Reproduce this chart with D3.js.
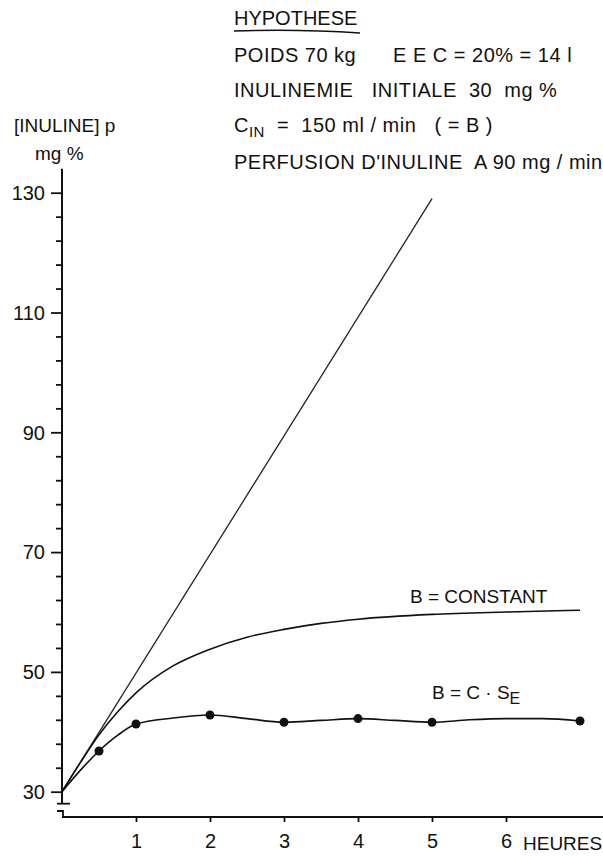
<!DOCTYPE html>
<html>
<head>
<meta charset="utf-8">
<script src="https://cdn.jsdelivr.net/npm/d3@7"></script>
<style>
  body { margin: 0; background: #fff; }
  svg text { font-family: "Liberation Sans", Arial, sans-serif; fill: #111; }
</style>
</head>
<body>
<svg id="chart" width="603" height="856"></svg>
<script>
// values
var tickHours = [1, 2, 3, 4, 5, 6];
var yMajor = [30, 50, 70, 90, 110, 130];
var yTicks = [30, 34, 38, 42, 46, 50, 54, 58, 62, 66, 70, 74, 78, 82, 86, 90,
              94, 98, 102, 106, 110, 114, 118, 122, 126, 130];

// no clearance: straight line
var straightHours = [0, 5];
var straightValues = [30, 129];

// B = constant
var constHours  = [0, 0.25, 0.5, 0.75, 1, 1.5, 2, 2.5, 3, 3.5, 4, 5, 6, 7];
var constValues = [30, 34.9, 39.5, 43.3, 46.5, 51, 53.8, 55.8, 57.1, 58.1, 58.8, 59.6, 60, 60.3];

// B = C . SE (curve readings + measured dots)
var seHours  = [0, 0.25, 0.5, 0.75, 1, 1.5, 2, 2.5, 3, 3.5, 4, 4.5, 5, 5.5, 6, 6.5, 7];
var seValues = [30, 33.6, 36.8, 39.4, 41.3, 42.3, 42.8, 42.2, 41.6, 41.9, 42.2, 41.9, 41.6, 42.0, 42.2, 42.2, 41.8];
var dotHours  = [0.5, 1, 2, 3, 4, 5, 7];
var dotValues = [36.8, 41.3, 42.8, 41.6, 42.2, 41.6, 41.8];

var hypotheses = [
  "POIDS 70 kg",
  "INULINEMIE   INITIALE  30  mg %",
  "C",
  "PERFUSION D'INULINE  A 90 mg / min"
];

function Chart(){
  var width = 603
    , height = 856
    , axisY = 817
    , fontSize = "20px";

  var x = d3.scaleLinear().domain([0, 7]).range([62, 580]);
  var y = d3.scaleLinear().domain([30, 130]).range([791.7, 192.7]);

  function chart(svg){
    svg.append("rect").attr("width", width).attr("height", height).attr("fill", "#fff");

    // y axis, major ticks longer than minor ones
    var yAxis = d3.axisLeft(y)
        .tickValues(yTicks)
        .tickSize(6)
        .tickFormat("");
    var gy = svg.append("g")
        .attr("transform", "translate(" + x(0) + ",0)")
        .call(yAxis);
    gy.select(".domain").remove();
    gy.selectAll(".tick line")
        .attr("stroke", "#111")
        .attr("stroke-width", 1.8)
        .attr("x2", function(d){ return yMajor.indexOf(d) >= 0 ? -11 : -6; });

    svg.append("line")
        .attr("x1", x(0)).attr("x2", x(0))
        .attr("y1", y(134)).attr("y2", y(28))
        .attr("stroke", "#111").attr("stroke-width", 2);

    svg.selectAll(".ylab")
        .data(yMajor)
       .enter().append("text")
        .attr("class", "ylab")
        .attr("x", 45)
        .attr("y", function(d){ return y(d); })
        .attr("dy", "0.36em")
        .attr("text-anchor", "end")
        .style("font-size", fontSize)
        .text(function(d){ return d; });

    // axis break marks
    svg.append("line")
        .attr("x1", x(0) - 5).attr("x2", x(0) + 8)
        .attr("y1", y(28)).attr("y2", y(28))
        .attr("stroke", "#111").attr("stroke-width", 1.8);
    svg.append("path")
        .attr("d", "M" + (x(0) - 5) + "," + (axisY - 6) + "H" + (x(0) + 1) + "V" + axisY)
        .attr("fill", "none").attr("stroke", "#111").attr("stroke-width", 1.8);

    // x axis
    var xAxis = d3.axisBottom(x)
        .tickValues(tickHours)
        .tickSize(5)
        .tickPadding(12)
        .tickFormat(d3.format("d"));
    var gx = svg.append("g")
        .attr("transform", "translate(0," + axisY + ")")
        .call(xAxis);
    gx.select(".domain").remove();
    gx.selectAll(".tick line").attr("stroke", "#111").attr("stroke-width", 1.8);
    gx.selectAll(".tick text")
        .attr("fill", "#111")
        .style("font-size", fontSize)
        .style("font-family", "Liberation Sans, Arial, sans-serif");

    svg.append("line")
        .attr("x1", x(0)).attr("x2", width)
        .attr("y1", axisY).attr("y2", axisY)
        .attr("stroke", "#111").attr("stroke-width", 2);

    svg.append("text")
        .attr("x", 523).attr("y", 850)
        .style("font-size", "19px")
        .text("HEURES");

    // y axis title
    svg.append("text")
        .attr("x", 14).attr("y", 132)
        .style("font-size", "19px")
        .text("[INULINE] p");
    svg.append("text")
        .attr("x", 35).attr("y", 160)
        .style("font-size", "19px")
        .text("mg %");

    // curves
    var line = d3.line()
        .x(function(d){ return x(d[0]); })
        .y(function(d){ return y(d[1]); });

    svg.append("path")
        .datum(d3.zip(straightHours, straightValues))
        .attr("d", line.curve(d3.curveLinear))
        .attr("fill", "none").attr("stroke", "#222").attr("stroke-width", 1.3);

    svg.append("path")
        .datum(d3.zip(constHours, constValues))
        .attr("d", line.curve(d3.curveMonotoneX))
        .attr("fill", "none").attr("stroke", "#111").attr("stroke-width", 1.6);

    svg.append("path")
        .datum(d3.zip(seHours, seValues))
        .attr("d", line.curve(d3.curveMonotoneX))
        .attr("fill", "none").attr("stroke", "#111").attr("stroke-width", 1.6);

    svg.selectAll(".dot")
        .data(d3.zip(dotHours, dotValues))
       .enter().append("circle")
        .attr("class", "dot")
        .attr("cx", function(d){ return x(d[0]); })
        .attr("cy", function(d){ return y(d[1]); })
        .attr("r", 4.5)
        .attr("fill", "#111");

    // curve labels
    svg.append("text")
        .attr("x", 410).attr("y", 603)
        .style("font-size", "19px")
        .text("B = CONSTANT");
    var se = svg.append("text")
        .attr("x", 432).attr("y", 699)
        .style("font-size", "19px");
    se.append("tspan").text("B = C \u00B7 S");
    se.append("tspan").attr("dy", 5).style("font-size", "16px").text("E");

    // hypothesis block
    svg.append("text")
        .attr("x", 234).attr("y", 25)
        .style("font-size", fontSize)
        .text("HYPOTHESE");
    svg.append("path")
        .attr("d", "M234,31Q300,29 360,33")
        .attr("fill", "none").attr("stroke", "#111").attr("stroke-width", 1.5);

    var block = svg.append("g")
        .style("font-size", fontSize)
        .style("letter-spacing", "0.5px");

    block.append("text")
        .attr("x", 234).attr("y", 62)
        .text(hypotheses[0]);
    block.append("text")
        .attr("x", 393).attr("y", 62)
        .text("E E C = 20% = 14 l");
    block.append("text")
        .attr("x", 234).attr("y", 97)
        .attr("xml:space", "preserve")
        .text(hypotheses[1]);
    var cin = block.append("text")
        .attr("x", 234).attr("y", 132)
        .attr("xml:space", "preserve");
    cin.append("tspan").text(hypotheses[2]);
    cin.append("tspan").attr("dy", 5).style("font-size", "15px").text("IN");
    cin.append("tspan").attr("dy", -5).text("  =  150 ml / min   ( = B )");
    block.append("text")
        .attr("x", 234).attr("y", 169)
        .attr("xml:space", "preserve")
        .text(hypotheses[3]);
  }

  return chart;
}

d3.select("#chart").call(Chart());
</script>
</body>
</html>
